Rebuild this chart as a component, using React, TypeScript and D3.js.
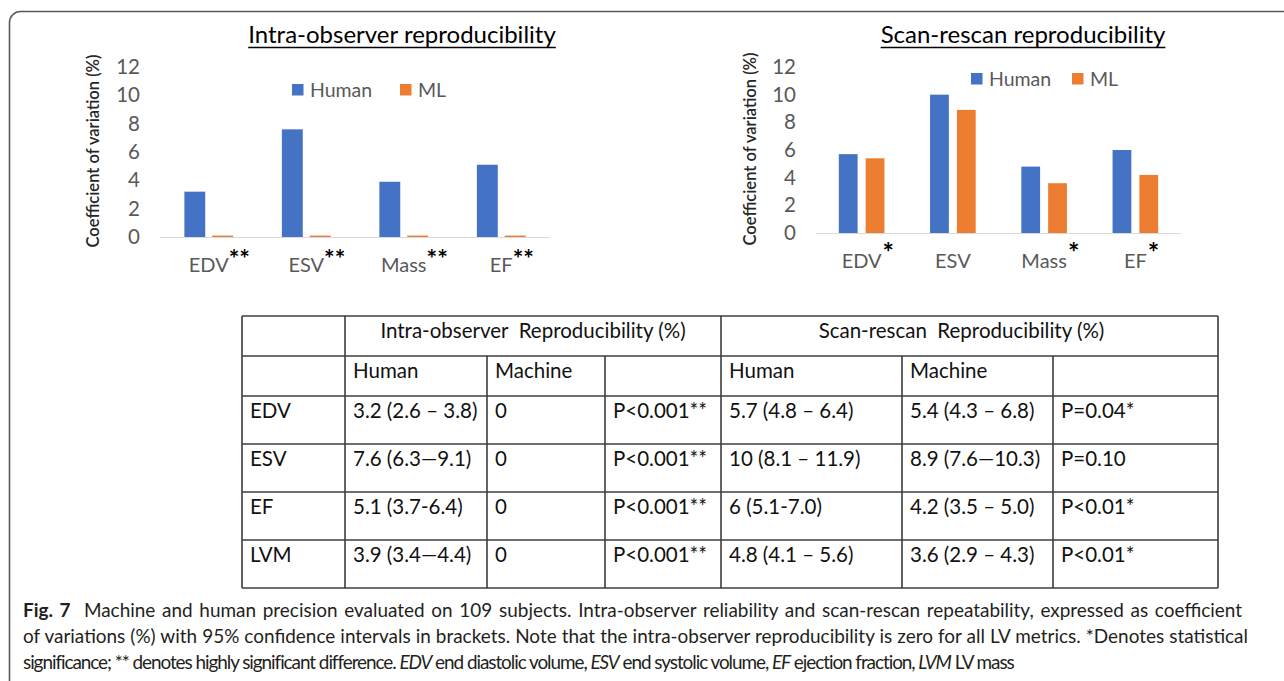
import { useEffect, useRef } from 'react';
import * as d3 from 'd3';

const W = 1284;
const H = 681;
const FONT = "Lato, 'Open Sans', sans-serif";
const CAPTION_FONT = "Lato, 'Noto Sans', sans-serif";

const CATEGORIES = ['EDV', 'ESV', 'Mass', 'EF'];
const SERIES = ['Human', 'ML'];
const COLORS = ['#4472c4', '#ed7d31'];
const Y_TICKS = [0, 2, 4, 6, 8, 10, 12];

// intra-observer chart
const INTRA_HUMAN = [3.2, 7.6, 3.9, 5.1];
const INTRA_ML = [0.1, 0.1, 0.1, 0.1];
const INTRA_STARS = ['**', '**', '**', '**'];

// scan-rescan chart
const SCAN_HUMAN = [5.7, 10, 4.8, 6];
const SCAN_ML = [5.4, 8.9, 3.6, 4.2];
const SCAN_STARS = ['*', '', '*', '*'];

// table
const GROUP_HEADERS = ['Intra-observer  Reproducibility (%)', 'Scan-rescan  Reproducibility (%)'];
const SUB_HEADERS = ['', 'Human', 'Machine', '', 'Human', 'Machine', ''];
const METRICS = ['EDV', 'ESV', 'EF', 'LVM'];
const INTRA_HUMAN_CI = ['3.2 (2.6 – 3.8)', '7.6 (6.3—9.1)', '5.1 (3.7-6.4)', '3.9 (3.4—4.4)'];
const INTRA_MACHINE_CI = ['0', '0', '0', '0'];
const INTRA_P = ['P<0.001**', 'P<0.001**', 'P<0.001**', 'P<0.001**'];
const SCAN_HUMAN_CI = ['5.7 (4.8 – 6.4)', '10 (8.1 – 11.9)', '6 (5.1-7.0)', '4.8 (4.1 – 5.6)'];
const SCAN_MACHINE_CI = ['5.4 (4.3 – 6.8)', '8.9 (7.6—10.3)', '4.2 (3.5 – 5.0)', '3.6 (2.9 – 4.3)'];
const SCAN_P = ['P=0.04*', 'P=0.10', 'P<0.01*', 'P<0.01*'];

const CAPTION = [
  [
    { t: 'Fig. 7', b: true },
    { t: '  Machine and human precision evaluated on 109 subjects. Intra-observer reliability and scan-rescan repeatability, expressed as coefficient' },
  ],
  [
    { t: 'of variations (%) with 95% confidence intervals in brackets. Note that the intra-observer reproducibility is zero for all LV metrics. *Denotes statistical' },
  ],
  [
    { t: 'significance; ** denotes highly significant difference. ' },
    { t: 'EDV', i: true },
    { t: ' end diastolic volume, ' },
    { t: 'ESV', i: true },
    { t: ' end systolic volume, ' },
    { t: 'EF', i: true },
    { t: ' ejection fraction, ' },
    { t: 'LVM', i: true },
    { t: ' LV mass' },
  ],
];

type ChartOpts = {
  title: string;
  human: number[];
  ml: number[];
  stars: string[];
  x0: number;
  x1: number;
  yTop: number;
  yBase: number;
  titleCx: number;
  titleY: number;
  axisTitleX: number;
  legendX: number;
  legendY: number;
  legendGap: number;
  barGap: number;
  starSize: number;
  starDx: number;
  starLift: number;
};

function drawChart(svg: d3.Selection<SVGSVGElement, unknown, null, undefined>, o: ChartOpts) {
  const g = svg.append('g').attr('font-family', FONT);

  const x = d3.scaleBand<string>().domain(CATEGORIES).range([o.x0, o.x1]).paddingInner(0.5).paddingOuter(0.25);
  const xs = d3.scaleBand<string>().domain(SERIES).range([0, x.bandwidth()]).paddingInner(o.barGap);
  const y = d3.scaleLinear().domain([0, 12]).range([o.yBase, o.yTop]);

  // title with underline
  const title = g.append('text')
    .attr('x', o.titleCx)
    .attr('y', o.titleY)
    .attr('text-anchor', 'middle')
    .attr('font-size', 24)
    .attr('fill', '#000')
    .text(o.title);
  const tw = (title.node() as SVGTextElement).getComputedTextLength();
  g.append('line')
    .attr('x1', o.titleCx - tw / 2).attr('x2', o.titleCx + tw / 2)
    .attr('y1', o.titleY + 4.5).attr('y2', o.titleY + 4.5)
    .attr('stroke', '#000').attr('stroke-width', 1.4);

  // y axis
  const ax = g.append('g')
    .attr('transform', `translate(${o.x0},0)`)
    .call(d3.axisLeft(y).tickValues(Y_TICKS).tickSize(0).tickPadding(20).tickFormat(d3.format('d')));
  ax.select('.domain').remove();
  ax.selectAll('text')
    .attr('font-size', 20.5)
    .attr('font-family', FONT)
    .attr('fill', '#595959');

  g.append('text')
    .attr('transform', `translate(${o.axisTitleX},${(o.yBase + o.yTop) / 2 - 1}) rotate(-90)`)
    .attr('text-anchor', 'middle')
    .attr('dominant-baseline', 'central')
    .attr('font-size', 16.5)
    .attr('font-weight', 600)
    .attr('fill', '#262626')
    .text('Coefficient of variation (%)');

  // bars
  const rows = CATEGORIES.map((c, i) => ({ c, values: [o.human[i], o.ml[i]] }));
  g.selectAll('g.cat')
    .data(rows)
    .join('g')
    .attr('class', 'cat')
    .attr('transform', d => `translate(${x(d.c)},0)`)
    .selectAll('rect')
    .data(d => d.values.map((v, j) => ({ s: SERIES[j], v, j })))
    .join('rect')
    .attr('x', d => xs(d.s)!)
    .attr('y', d => y(d.v))
    .attr('width', xs.bandwidth())
    .attr('height', d => o.yBase - y(d.v))
    .attr('fill', d => COLORS[d.j]);

  g.append('line')
    .attr('x1', o.x0).attr('x2', o.x1)
    .attr('y1', o.yBase + 0.5).attr('y2', o.yBase + 0.5)
    .attr('stroke', '#d9d9d9').attr('stroke-width', 1);

  // category labels and significance stars
  CATEGORIES.forEach((c, i) => {
    const cx = x(c)! + x.bandwidth() / 2;
    const lab = g.append('text')
      .attr('x', cx)
      .attr('y', o.yBase + 35)
      .attr('text-anchor', 'middle')
      .attr('font-size', 20)
      .attr('fill', '#595959')
      .text(c);
    const lw = (lab.node() as SVGTextElement).getComputedTextLength();
    if (o.stars[i]) {
      g.append('text')
        .attr('x', cx + lw / 2 + o.starDx)
        .attr('y', o.yBase + 35 - o.starLift)
        .attr('font-size', o.starSize)
        .attr('font-weight', 700)
        .attr('fill', '#000')
        .text(o.stars[i]);
    }
  });

  // legend
  SERIES.forEach((s, j) => {
    const lx = o.legendX + j * o.legendGap;
    g.append('rect')
      .attr('x', lx).attr('y', o.legendY)
      .attr('width', 11.5).attr('height', 11.5)
      .attr('fill', COLORS[j]);
    g.append('text')
      .attr('x', lx + 18)
      .attr('y', o.legendY + 6)
      .attr('dy', '0.35em')
      .attr('font-size', 19.5)
      .attr('fill', '#595959')
      .text(s);
  });
}

function drawTable(svg: d3.Selection<SVGSVGElement, unknown, null, undefined>) {
  const cols = [242, 345, 487, 605, 721, 902, 1053, 1218];
  const rowsY = [316, 356, 396, 444, 492, 540, 588];
  const g = svg.append('g').attr('font-family', FONT).attr('font-size', 20.5).attr('fill', '#111');
  const stroke = '#3c3c3c';

  rowsY.forEach(yy => {
    g.append('line')
      .attr('x1', cols[0]).attr('x2', cols[cols.length - 1])
      .attr('y1', yy).attr('y2', yy)
      .attr('stroke', stroke).attr('stroke-width', 1.6);
  });
  cols.forEach((cx, k) => {
    const full = k === 0 || k === 1 || k === 4 || k === cols.length - 1;
    g.append('line')
      .attr('x1', cx).attr('x2', cx)
      .attr('y1', full ? rowsY[0] : rowsY[1]).attr('y2', rowsY[rowsY.length - 1])
      .attr('stroke', stroke).attr('stroke-width', 1.6);
  });

  const base = 22;
  GROUP_HEADERS.forEach((h, k) => {
    const a = k === 0 ? cols[1] : cols[4];
    const b = k === 0 ? cols[4] : cols[7];
    g.append('text')
      .attr('x', (a + b) / 2 - (k === 0 ? 0 : 8))
      .attr('y', rowsY[0] + base)
      .attr('text-anchor', 'middle')
      .style('white-space', 'pre')
      .text(h);
  });

  SUB_HEADERS.forEach((h, k) => {
    if (!h) return;
    g.append('text').attr('x', cols[k] + 8).attr('y', rowsY[1] + base).text(h);
  });

  const body = METRICS.map((m, i) => [
    m, INTRA_HUMAN_CI[i], INTRA_MACHINE_CI[i], INTRA_P[i],
    SCAN_HUMAN_CI[i], SCAN_MACHINE_CI[i], SCAN_P[i],
  ]);
  body.forEach((row, i) => {
    row.forEach((cell, k) => {
      g.append('text')
        .attr('x', cols[k] + 8)
        .attr('y', rowsY[i + 2] + base)
        .text(cell);
    });
  });
}

function drawCaption(svg: d3.Selection<SVGSVGElement, unknown, null, undefined>) {
  const left = 23;
  const widths = [1242 - left, 1248 - left, 1013 - left];
  const baselines = [617, 643, 669];
  const g = svg.append('g').attr('font-family', CAPTION_FONT).attr('fill', '#231f20');

  const lines = CAPTION.map((parts, li) => {
    const t = g.append('text')
      .attr('x', left)
      .attr('y', baselines[li])
      .attr('font-size', 17)
      .style('white-space', 'pre');
    parts.forEach((p: { t: string; b?: boolean; i?: boolean }) => {
      t.append('tspan')
        .attr('font-weight', p.b ? 700 : 400)
        .attr('font-style', p.i ? 'italic' : 'normal')
        .text(p.t);
    });
    return t;
  });

  const measure = (li: number) => (lines[li].node() as SVGTextElement).getComputedTextLength();

  // size the font from the two full lines, then justify them and tighten the last one
  const natural = measure(0) + measure(1);
  const fs = 17 * (widths[0] + widths[1]) * 0.985 / natural;
  lines.forEach(t => t.attr('font-size', fs));
  [0, 1].forEach(li => {
    const node = lines[li].node() as SVGTextElement;
    const w = node.getComputedTextLength();
    const spaces = (node.textContent || '').split(' ').length - 1;
    lines[li].attr('word-spacing', (widths[li] - w) / spaces);
  });
  const n3 = lines[2].node() as SVGTextElement;
  const w3 = n3.getComputedTextLength();
  const chars = (n3.textContent || '').length;
  lines[2].attr('letter-spacing', (widths[2] - w3) / chars);
}

export default function App() {
  const svgRef = useRef<SVGSVGElement>(null);

  useEffect(() => {
    if (!svgRef.current) return;
    const svg = d3.select(svgRef.current);
    svg.selectAll('*').remove();

    svg.append('rect').attr('width', W).attr('height', H).attr('fill', '#fff');

    // figure frame
    svg.append('rect')
      .attr('x', 9.5).attr('y', 11.5)
      .attr('width', 1320).attr('height', 720)
      .attr('rx', 11)
      .attr('fill', 'none')
      .attr('stroke', '#5a5a5a')
      .attr('stroke-width', 1.6);

    drawChart(svg, {
      title: 'Intra-observer reproducibility',
      human: INTRA_HUMAN,
      ml: INTRA_ML,
      stars: INTRA_STARS,
      x0: 160, x1: 550, yTop: 67, yBase: 237,
      titleCx: 402, titleY: 43, axisTitleX: 93,
      legendX: 292, legendY: 84, legendGap: 108,
      barGap: 0.25, starSize: 25, starDx: 0, starLift: 4,
    });

    drawChart(svg, {
      title: 'Scan-rescan reproducibility',
      human: SCAN_HUMAN,
      ml: SCAN_ML,
      stars: SCAN_STARS,
      x0: 816, x1: 1181, yTop: 67, yBase: 233,
      titleCx: 1023, titleY: 43, axisTitleX: 750,
      legendX: 971, legendY: 73, legendGap: 101,
      barGap: 0.3, starSize: 27, starDx: 1, starLift: 6,
    });

    drawTable(svg);
    drawCaption(svg);
  }, []);

  return (
    <svg
      ref={svgRef}
      width={W}
      height={H}
      style={{ position: 'absolute', left: 0, top: 0, display: 'block' }}
    />
  );
}
